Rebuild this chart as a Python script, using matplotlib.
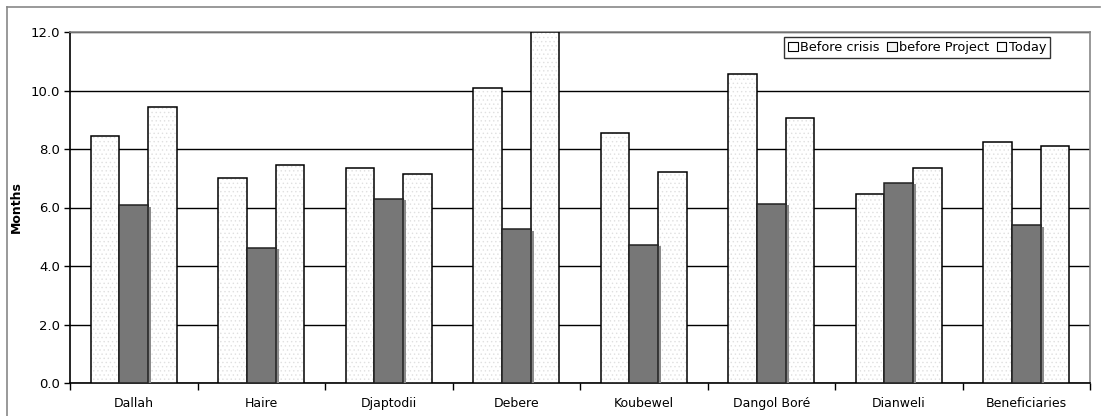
import numpy as np
import matplotlib.pyplot as plt
from matplotlib.lines import Line2D
from matplotlib.patches import Patch

villages = ["Dallah", "Haire", "Djaptodii", "Debere", "Koubewel",
            "Dangol Boré", "Dianweli", "Beneficiaries"]
before_crisis = [8.44, 7.02, 7.35, 10.09, 8.55, 10.56, 6.46, 8.24]
before_project = [6.07, 4.63, 6.29, 5.25, 4.72, 6.12, 6.84, 5.40]
today = [9.45, 7.44, 7.13, 12.0, 7.21, 9.06, 7.35, 8.10]
series_names = ["Before crisis", "before Project", "Today"]
yticks = [0, 2, 4, 6, 8, 10, 12]

plt.rcParams["font.family"] = "DejaVu Sans"
plt.rcParams["hatch.color"] = "#e0e0e0"
plt.rcParams["hatch.linewidth"] = 0.5

fig = plt.figure(figsize=(11.09, 4.16), dpi=100)
ax = fig.add_axes([70 / 1109, 1 - 383 / 416, 1020 / 1109, 351 / 416])

x = np.arange(len(villages))
w = 0.224


def light_bars(xpos, vals):
    # dotted white fill, then a plain black outline on top
    ax.bar(xpos, vals, w, color="white", hatch="....", edgecolor="#e0e0e0",
           linewidth=0, zorder=3)
    ax.bar(xpos, vals, w, fill=False, edgecolor="black", linewidth=1.1, zorder=4)


light_bars(x - w, before_crisis)
light_bars(x + w, today)
# dark middle bars with a slight drop shadow spilling onto the next bar
ax.bar(x + 0.025, np.array(before_project) - 0.05, w, color="#8a8a8a",
       linewidth=0, zorder=4.2)
ax.bar(x, before_project, w, color="#777777", edgecolor="#222222",
       linewidth=1.1, zorder=4.5)

ax.set_xlim(-0.5, len(villages) - 0.5)
ax.set_ylim(0, 12)
ax.set_yticks(yticks)
ax.set_yticklabels([f"{t:.1f}" for t in yticks], fontsize=9.5)
ax.set_xticks(x)
ax.set_xticklabels(villages, fontsize=9)
ax.tick_params(axis="x", length=0, pad=10)
ax.set_xticks(np.arange(len(villages) + 1) - 0.5, minor=True)
ax.tick_params(axis="x", which="minor", length=5, width=1, direction="out")
ax.tick_params(axis="y", length=4, width=1, direction="out", pad=3)

ax.yaxis.grid(True, color="black", linewidth=1)
ax.set_axisbelow(True)
for s in ["top", "right"]:
    ax.spines[s].set_color("#888888")
    ax.spines[s].set_linewidth(1.2)
ax.spines["left"].set_linewidth(1.2)
ax.spines["bottom"].set_linewidth(1.2)

ax.set_ylabel("Months", fontsize=9, fontweight="bold", labelpad=6)

handles = [Patch(facecolor="white", edgecolor="black", linewidth=0.8),
           Patch(facecolor="#f4f4f4", edgecolor="black", linewidth=0.8),
           Patch(facecolor="white", edgecolor="black", linewidth=0.8)]
leg = ax.legend(handles, series_names, ncol=3, loc="upper right",
                bbox_to_anchor=(0.961, 0.986), fontsize=9.3, frameon=True,
                fancybox=False, edgecolor="black", handlelength=0.75,
                handleheight=0.75, handletextpad=0.2, columnspacing=0.55,
                borderpad=0.3, borderaxespad=0)
leg.get_frame().set_linewidth(1)
leg.set_zorder(6)

# chart area border (top and left edges fall inside the image)
fx = lambda px: px / 1109
fy = lambda py: 1 - py / 416
fig.add_artist(Line2D([fx(7), fx(1100)], [fy(7), fy(7)], color="#888888",
                      linewidth=1.2, transform=fig.transFigure))
fig.add_artist(Line2D([fx(7), fx(7)], [fy(7), fy(416)], color="#888888",
                      linewidth=1.2, transform=fig.transFigure))

fig.savefig("out.png", dpi=100)
